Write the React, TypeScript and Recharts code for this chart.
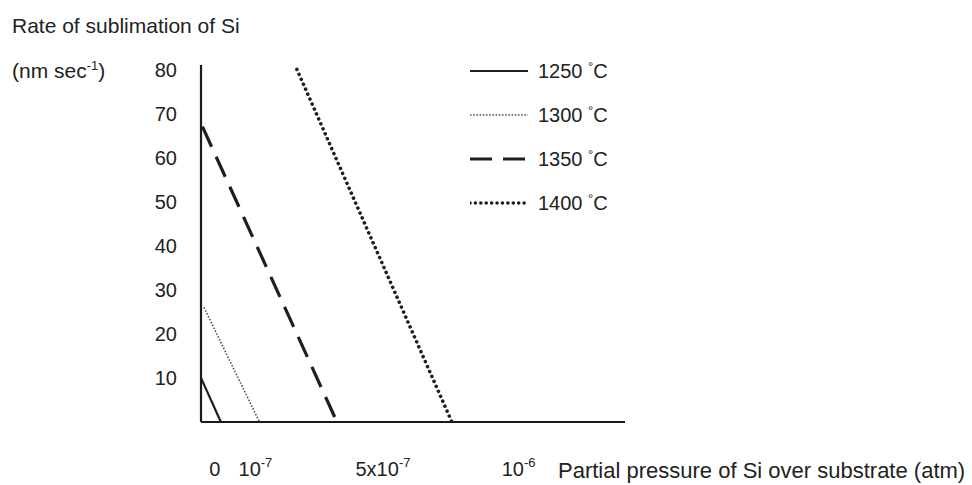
import React from 'react';
import { LineChart, Line, XAxis, YAxis, Legend } from 'recharts';

const FONT = '"Liberation Sans", Arial, Helvetica, sans-serif';
const INK = '#222';

// Partial pressure of Si in units of 1e-7 atm ; rate in nm/s
const TEMPS = ['1250', '1300', '1350', '1400'];
const P_1250 = [0, 0.68];
const R_1250 = [10, 0];
const P_1300 = [0.1, 2.0];
const R_1300 = [26, 0];
const P_1350 = [0.05, 4.65];
const R_1350 = [67, 0];
const P_1400 = [3.28, 8.58];
const R_1400 = [80, 0];

const Y_TICKS = [10, 20, 30, 40, 50, 60, 70, 80];
const X_TICK_VALUES = [0, 1, 5, 10];
const X_TICK_BASE = ['0', '10', '5x10', '10'];
const X_TICK_EXP = ['', '-7', '-7', '-6'];

const toRows = (p: number[], r: number[]) => p.map((v, i) => ({ p: v, r: r[i] }));

const SERIES = [
  { temp: TEMPS[0], data: toRows(P_1250, R_1250), color: '#1e1e1e', width: 2.2, dash: undefined as string | undefined, cap: 'butt' as const },
  { temp: TEMPS[1], data: toRows(P_1300, R_1300), color: '#555', width: 1.6, dash: '1.6 1.6', cap: 'butt' as const },
  { temp: TEMPS[2], data: toRows(P_1350, R_1350), color: '#1e1e1e', width: 3.2, dash: '22 11', cap: 'butt' as const },
  { temp: TEMPS[3], data: toRows(P_1400, R_1400), color: '#1e1e1e', width: 3.6, dash: '0.01 5.4', cap: 'round' as const },
];

const XTick = (props: any) => {
  const { x, y, payload } = props;
  const i = X_TICK_VALUES.indexOf(payload.value);
  if (i < 0) return null;
  return (
    <text x={x} y={y + 54} textAnchor="start" fontSize={20} fontFamily={FONT} fill={INK}>
      {X_TICK_BASE[i]}
      {X_TICK_EXP[i] ? (
        <tspan dy={-9} fontSize={13}>{X_TICK_EXP[i]}</tspan>
      ) : null}
    </text>
  );
};

const LegendContent = (props: any) => {
  const payload = props.payload || [];
  return (
    <div style={{ fontFamily: FONT, color: INK }}>
      {payload.map((entry: any, i: number) => {
        const s = SERIES[i];
        return (
          <div key={i} style={{ display: 'flex', alignItems: 'center', height: 44 }}>
            <svg width={58} height={8} style={{ display: 'block' }}>
              <line x1={0} y1={4} x2={58} y2={4} stroke={s.color} strokeWidth={s.width}
                strokeDasharray={s.dash} strokeLinecap={s.cap} />
            </svg>
            <span style={{ marginLeft: 10, fontSize: 20, whiteSpace: 'nowrap' }}>
              {s.temp}{' '}
              <span style={{ fontSize: 13, position: 'relative', top: -7 }}>°</span>C
            </span>
          </div>
        );
      })}
    </div>
  );
};

export default function App() {
  return (
    <div style={{ position: 'relative', width: 972, height: 485, background: '#fff', fontFamily: FONT, color: INK }}>
      <style>{`body{margin:0;background:#fff}`}</style>
      <div style={{ position: 'absolute', left: 12, top: 15, fontSize: 21, lineHeight: '21px', whiteSpace: 'nowrap' }}>
        Rate of sublimation of Si
      </div>
      <div style={{ position: 'absolute', left: 12, top: 60, fontSize: 21, lineHeight: '21px', whiteSpace: 'nowrap' }}>
        (nm sec<span style={{ fontSize: 13, position: 'relative', top: -8 }}>-1</span>)
      </div>
      <div style={{ position: 'absolute', left: 558, top: 460, fontSize: 22, lineHeight: '22px', whiteSpace: 'nowrap' }}>
        Partial pressure of Si over substrate (atm)
      </div>
      <LineChart width={972} height={485} margin={{ top: 65, left: 141, right: 347, bottom: 13 }}>
        <XAxis xAxisId="l" type="number" dataKey="p" domain={[-0.284, 14.216]} allowDataOverflow
          ticks={X_TICK_VALUES} height={50} axisLine={{ stroke: '#1a1a1a', strokeWidth: 2.2 }}
          tickLine={false} tickSize={0} tickMargin={0} tick={<XTick />} interval={0} />
        <XAxis xAxisId="d" type="number" dataKey="p" domain={[0, 14.5]} allowDataOverflow hide height={0} />
        <YAxis yAxisId="d" type="number" domain={[0, 81]} ticks={Y_TICKS} width={60} interval={0}
          tickLine={false} tickSize={0} tickMargin={24}
          tick={{ fontSize: 20, fontFamily: FONT, fill: INK }}
          axisLine={{ stroke: '#1a1a1a', strokeWidth: 2.2 }} />
        <Legend layout="vertical" align="center" verticalAlign="middle" content={<LegendContent />}
          wrapperStyle={{ left: 470, top: 49, width: 200 }} />
        {SERIES.map((s) => (
          <Line key={s.temp} xAxisId="d" yAxisId="d" data={s.data} dataKey="r" name={`${s.temp} °C`}
            type="linear" stroke={s.color} strokeWidth={s.width} strokeDasharray={s.dash}
            strokeLinecap={s.cap} dot={false} activeDot={false} isAnimationActive={false} legendType="line" />
        ))}
      </LineChart>
    </div>
  );
}
